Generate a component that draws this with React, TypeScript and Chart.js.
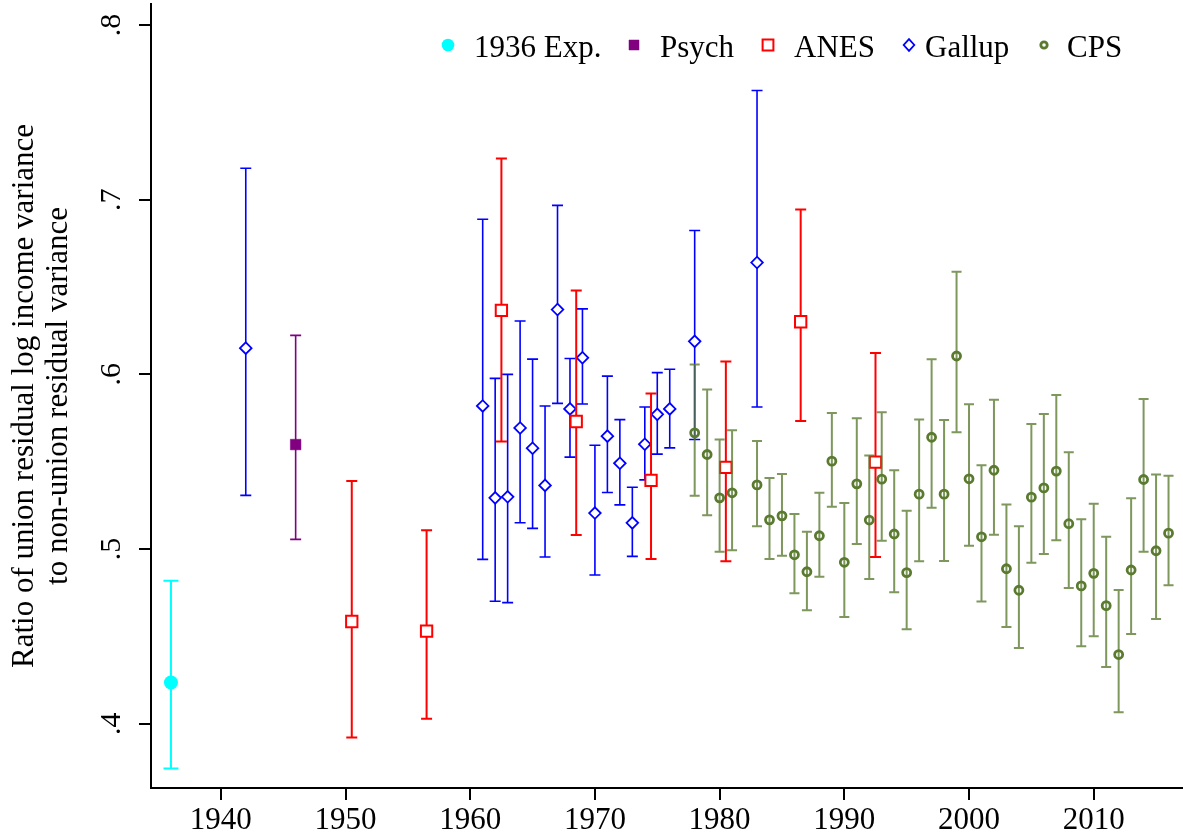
import React, { useEffect, useRef } from 'react';
import { Chart, registerables } from 'chart.js';

Chart.register(...registerables);

// ---------------- data ----------------
const X_MIN = 1934.4;
const X_MAX = 2017.16;
const Y_MIN = 0.3632;
const Y_MAX = 0.812;

const X_TICKS = [1940, 1950, 1960, 1970, 1980, 1990, 2000, 2010];
const X_TICK_LABELS = ['1940', '1950', '1960', '1970', '1980', '1990', '2000', '2010'];
const Y_TICKS = [0.4, 0.5, 0.6, 0.7, 0.8];
const Y_TICK_LABELS = ['.4', '.5', '.6', '.7', '.8'];
const Y_TITLE = ['Ratio of union residual log income variance', 'to non-union residual variance'];

const EXP_YEAR = [1936];
const EXP_VAL = [0.4236];
const EXP_LO = [0.3743];
const EXP_HI = [0.4819];

const PSYCH_YEAR = [1946];
const PSYCH_VAL = [0.5598];
const PSYCH_LO = [0.5055];
const PSYCH_HI = [0.6223];

const ANES_YEAR = [1950.5, 1956.5, 1962.5, 1968.5, 1974.5, 1980.5, 1986.5, 1992.5];
const ANES_VAL = [0.4585, 0.453, 0.6366, 0.573, 0.5393, 0.5467, 0.6301, 0.5497];
const ANES_LO = [0.3921, 0.4029, 0.5615, 0.508, 0.4943, 0.493, 0.5733, 0.4954];
const ANES_HI = [0.5389, 0.5107, 0.7236, 0.648, 0.589, 0.6074, 0.6943, 0.6122];

const GALLUP_YEAR = [1942, 1961, 1962, 1963, 1964, 1965, 1966, 1967, 1968, 1969, 1970, 1971, 1972, 1973, 1974, 1975, 1976, 1978, 1983];
const GALLUP_VAL = [0.615, 0.5819, 0.5293, 0.5299, 0.5693, 0.5577, 0.5364, 0.6371, 0.5802, 0.6095, 0.5206, 0.5646, 0.5491, 0.515, 0.56, 0.5771, 0.5802, 0.6189, 0.664];
const GALLUP_LO = [0.5307, 0.4941, 0.4701, 0.4693, 0.515, 0.5118, 0.4954, 0.5834, 0.5526, 0.583, 0.4851, 0.5324, 0.5253, 0.4958, 0.5396, 0.5543, 0.5579, 0.5627, 0.5813];
const GALLUP_HI = [0.718, 0.6888, 0.5977, 0.6, 0.6305, 0.6087, 0.5819, 0.6967, 0.6091, 0.6375, 0.5594, 0.599, 0.5741, 0.5354, 0.5813, 0.601, 0.6029, 0.6823, 0.7625];

const CPS_YEAR = [1978, 1979, 1980, 1981, 1983, 1984, 1985, 1986, 1987, 1988, 1989, 1990, 1991, 1992, 1993, 1994, 1995, 1996, 1997, 1998, 1999, 2000, 2001, 2002, 2003, 2004, 2005, 2006, 2007, 2008, 2009, 2010, 2011, 2012, 2013, 2014, 2015, 2016];
const CPS_VAL = [0.5665, 0.5541, 0.5293, 0.5322, 0.5367, 0.5167, 0.519, 0.4967, 0.487, 0.5076, 0.5503, 0.4924, 0.5373, 0.5166, 0.54, 0.5086, 0.4865, 0.5314, 0.564, 0.5314, 0.6105, 0.5402, 0.507, 0.5451, 0.4887, 0.4764, 0.5297, 0.535, 0.5446, 0.5145, 0.4789, 0.4861, 0.4676, 0.4396, 0.488, 0.5398, 0.499, 0.5091];
const CPS_LO = [0.5305, 0.5193, 0.4985, 0.4993, 0.5131, 0.4943, 0.4962, 0.4747, 0.465, 0.4842, 0.5242, 0.4611, 0.5029, 0.4829, 0.5047, 0.4752, 0.4541, 0.493, 0.5236, 0.4931, 0.5669, 0.5019, 0.4699, 0.5082, 0.4554, 0.4433, 0.4922, 0.4971, 0.505, 0.4777, 0.4444, 0.4501, 0.4324, 0.4065, 0.4513, 0.4985, 0.46, 0.4793];
const CPS_HI = [0.6057, 0.5913, 0.5627, 0.568, 0.5619, 0.5407, 0.5429, 0.52, 0.5099, 0.5322, 0.5779, 0.5263, 0.5749, 0.5535, 0.5783, 0.5451, 0.5219, 0.5741, 0.6087, 0.5739, 0.6587, 0.5829, 0.548, 0.5855, 0.5255, 0.513, 0.5716, 0.5773, 0.5882, 0.5554, 0.5171, 0.5259, 0.507, 0.4766, 0.529, 0.5859, 0.5427, 0.5419];

// ---------------- styles ----------------
const FONT = "'Liberation Serif', 'Times New Roman', serif";
const CYAN = '#00FFFF';
const PURPLE = '#800080';
const RED = '#FF0000';
const BLUE = '#0000FF';
const OLIVE = '#5A7A2F';
const OLIVE_BAR = 'rgba(90,122,47,0.78)';

type Series = {
  label: string;
  years: number[];
  vals: number[];
  lo: number[];
  hi: number[];
  pointStyle: string;
  radius: number;
  fill: string;
  stroke: string;
  strokeWidth: number;
  barColor: string;
  barWidth: number;
  capHalf: number;
  order: number;
  legendX: number;
  legendTextX: number;
  legendSize: number;
};

const SERIES: Series[] = [
  { label: '1936 Exp.', years: EXP_YEAR, vals: EXP_VAL, lo: EXP_LO, hi: EXP_HI, pointStyle: 'circle', radius: 7, fill: CYAN, stroke: CYAN, strokeWidth: 0, barColor: CYAN, barWidth: 2, capHalf: 7.5, order: 5, legendX: 448, legendTextX: 474, legendSize: 6.3 },
  { label: 'Psych', years: PSYCH_YEAR, vals: PSYCH_VAL, lo: PSYCH_LO, hi: PSYCH_HI, pointStyle: 'rect', radius: 7.5, fill: PURPLE, stroke: PURPLE, strokeWidth: 0.5, barColor: PURPLE, barWidth: 1.6, capHalf: 5.5, order: 4, legendX: 634, legendTextX: 660, legendSize: 5 },
  { label: 'ANES', years: ANES_YEAR, vals: ANES_VAL, lo: ANES_LO, hi: ANES_HI, pointStyle: 'rect', radius: 8, fill: '#FFFFFF', stroke: RED, strokeWidth: 2, barColor: RED, barWidth: 2, capHalf: 5.5, order: 2, legendX: 768, legendTextX: 794, legendSize: 5.4 },
  { label: 'Gallup', years: GALLUP_YEAR, vals: GALLUP_VAL, lo: GALLUP_LO, hi: GALLUP_HI, pointStyle: 'rectRot', radius: 5.8, fill: '#FFFFFF', stroke: BLUE, strokeWidth: 1.8, barColor: BLUE, barWidth: 1.6, capHalf: 5.5, order: 3, legendX: 909, legendTextX: 925, legendSize: 5.3 },
  { label: 'CPS', years: CPS_YEAR, vals: CPS_VAL, lo: CPS_LO, hi: CPS_HI, pointStyle: 'circle', radius: 4, fill: 'rgba(0,0,0,0)', stroke: OLIVE, strokeWidth: 2.8, barColor: OLIVE_BAR, barWidth: 2, capHalf: 5, order: 1, legendX: 1044, legendTextX: 1067, legendSize: 3.2 },
];

// ---------------- plugins ----------------
const errorBarPlugin = {
  id: 'errorBars',
  beforeDatasetDraw(chart: any, args: any) {
    const ds = chart.data.datasets[args.index];
    const xs = chart.scales.x;
    const ys = chart.scales.y;
    const ctx = chart.ctx;
    ctx.save();
    ctx.strokeStyle = ds.errColor;
    ctx.lineWidth = ds.errWidth;
    ctx.lineCap = 'butt';
    ds.data.forEach((pt: any, i: number) => {
      const px = xs.getPixelForValue(pt.x);
      const pl = ys.getPixelForValue(ds.errLo[i]);
      const ph = ys.getPixelForValue(ds.errHi[i]);
      const c = ds.capHalf;
      ctx.beginPath();
      ctx.moveTo(px, pl);
      ctx.lineTo(px, ph);
      ctx.moveTo(px - c, pl);
      ctx.lineTo(px + c, pl);
      ctx.moveTo(px - c, ph);
      ctx.lineTo(px + c, ph);
      ctx.stroke();
    });
    ctx.restore();
  },
};

function drawMarker(ctx: CanvasRenderingContext2D, s: Series, x: number, y: number) {
  const r = s.legendSize;
  ctx.save();
  ctx.beginPath();
  if (s.pointStyle === 'circle') {
    ctx.arc(x, y, r, 0, Math.PI * 2);
  } else if (s.pointStyle === 'rect') {
    ctx.rect(x - r, y - r, 2 * r, 2 * r);
  } else {
    ctx.moveTo(x, y - r - 0.5);
    ctx.lineTo(x + r, y);
    ctx.lineTo(x, y + r + 0.5);
    ctx.lineTo(x - r, y);
    ctx.closePath();
  }
  ctx.fillStyle = s.fill;
  ctx.fill();
  if (s.strokeWidth > 0) {
    ctx.strokeStyle = s.stroke;
    ctx.lineWidth = s.strokeWidth;
    ctx.stroke();
  }
  ctx.restore();
}

const labelsPlugin = {
  id: 'labels',
  afterDraw(chart: any) {
    const ctx: CanvasRenderingContext2D = chart.ctx;
    const ys = chart.scales.y;
    const area = chart.chartArea;
    ctx.save();
    ctx.fillStyle = '#000';
    // y tick labels (vertical)
    ctx.font = `30px ${FONT}`;
    ctx.textAlign = 'center';
    ctx.textBaseline = 'alphabetic';
    Y_TICKS.forEach((v, i) => {
      const py = ys.getPixelForValue(v);
      ctx.save();
      ctx.translate(120, py);
      ctx.rotate(-Math.PI / 2);
      ctx.fillText(Y_TICK_LABELS[i], 0, 0);
      ctx.restore();
    });
    // y axis title
    ctx.font = `31px ${FONT}`;
    const cy = (area.top + area.bottom) / 2;
    const baselines = [33, 67];
    Y_TITLE.forEach((t, i) => {
      ctx.save();
      ctx.translate(baselines[i], cy);
      ctx.rotate(-Math.PI / 2);
      ctx.fillText(t, 0, 0);
      ctx.restore();
    });
    // legend
    ctx.textAlign = 'left';
    ctx.font = `31px ${FONT}`;
    SERIES.forEach((s) => {
      drawMarker(ctx, s, s.legendX, 45);
      ctx.fillStyle = '#000';
      ctx.fillText(s.label, s.legendTextX, 57);
    });
    ctx.restore();
  },
};

export default function App() {
  const ref = useRef<HTMLCanvasElement | null>(null);

  useEffect(() => {
    if (!ref.current) return;
    const datasets = SERIES.map((s) => ({
      label: s.label,
      data: s.years.map((yr, i) => ({ x: yr, y: s.vals[i] })),
      showLine: false,
      pointStyle: s.pointStyle,
      pointRadius: s.radius,
      pointBackgroundColor: s.fill,
      pointBorderColor: s.stroke,
      pointBorderWidth: s.strokeWidth,
      order: s.order,
      errLo: s.lo,
      errHi: s.hi,
      errColor: s.barColor,
      errWidth: s.barWidth,
      capHalf: s.capHalf,
    }));

    const chart = new Chart(ref.current, {
      type: 'scatter',
      data: { datasets } as any,
      options: {
        responsive: false,
        animation: false,
        events: [],
        layout: { autoPadding: false, padding: { top: 4, right: 0, left: 0, bottom: 0 } },
        plugins: { legend: { display: false }, tooltip: { enabled: false } },
        scales: {
          x: {
            type: 'linear',
            min: X_MIN,
            max: X_MAX,
            afterBuildTicks: (s: any) => {
              s.ticks = X_TICKS.map((v) => ({ value: v }));
            },
            afterFit: (s: any) => {
              s.height = 48;
            },
            grid: { display: true, drawOnChartArea: false, drawTicks: true, tickLength: 12, color: '#000', lineWidth: 2 },
            border: { display: true, color: '#000', width: 2 },
            ticks: {
              color: '#000',
              font: { family: FONT, size: 31 },
              padding: 2,
              maxRotation: 0,
              minRotation: 0,
              autoSkip: false,
              callback: (_v: any, i: number) => X_TICK_LABELS[i],
            },
          },
          y: {
            type: 'linear',
            min: Y_MIN,
            max: Y_MAX,
            afterBuildTicks: (s: any) => {
              s.ticks = Y_TICKS.map((v) => ({ value: v }));
            },
            afterFit: (s: any) => {
              s.width = 151;
            },
            grid: { display: true, drawOnChartArea: false, drawTicks: true, tickLength: 12, color: '#000', lineWidth: 2 },
            border: { display: true, color: '#000', width: 2 },
            ticks: { display: false },
          },
        },
      } as any,
      plugins: [errorBarPlugin, labelsPlugin],
    });
    return () => chart.destroy();
  }, []);

  return (
    <div style={{ position: 'fixed', left: 0, top: 0, width: 1183, height: 836, background: '#fff' }}>
      <canvas ref={ref} width={1183} height={836} style={{ width: 1183, height: 836, display: 'block' }} />
    </div>
  );
}
